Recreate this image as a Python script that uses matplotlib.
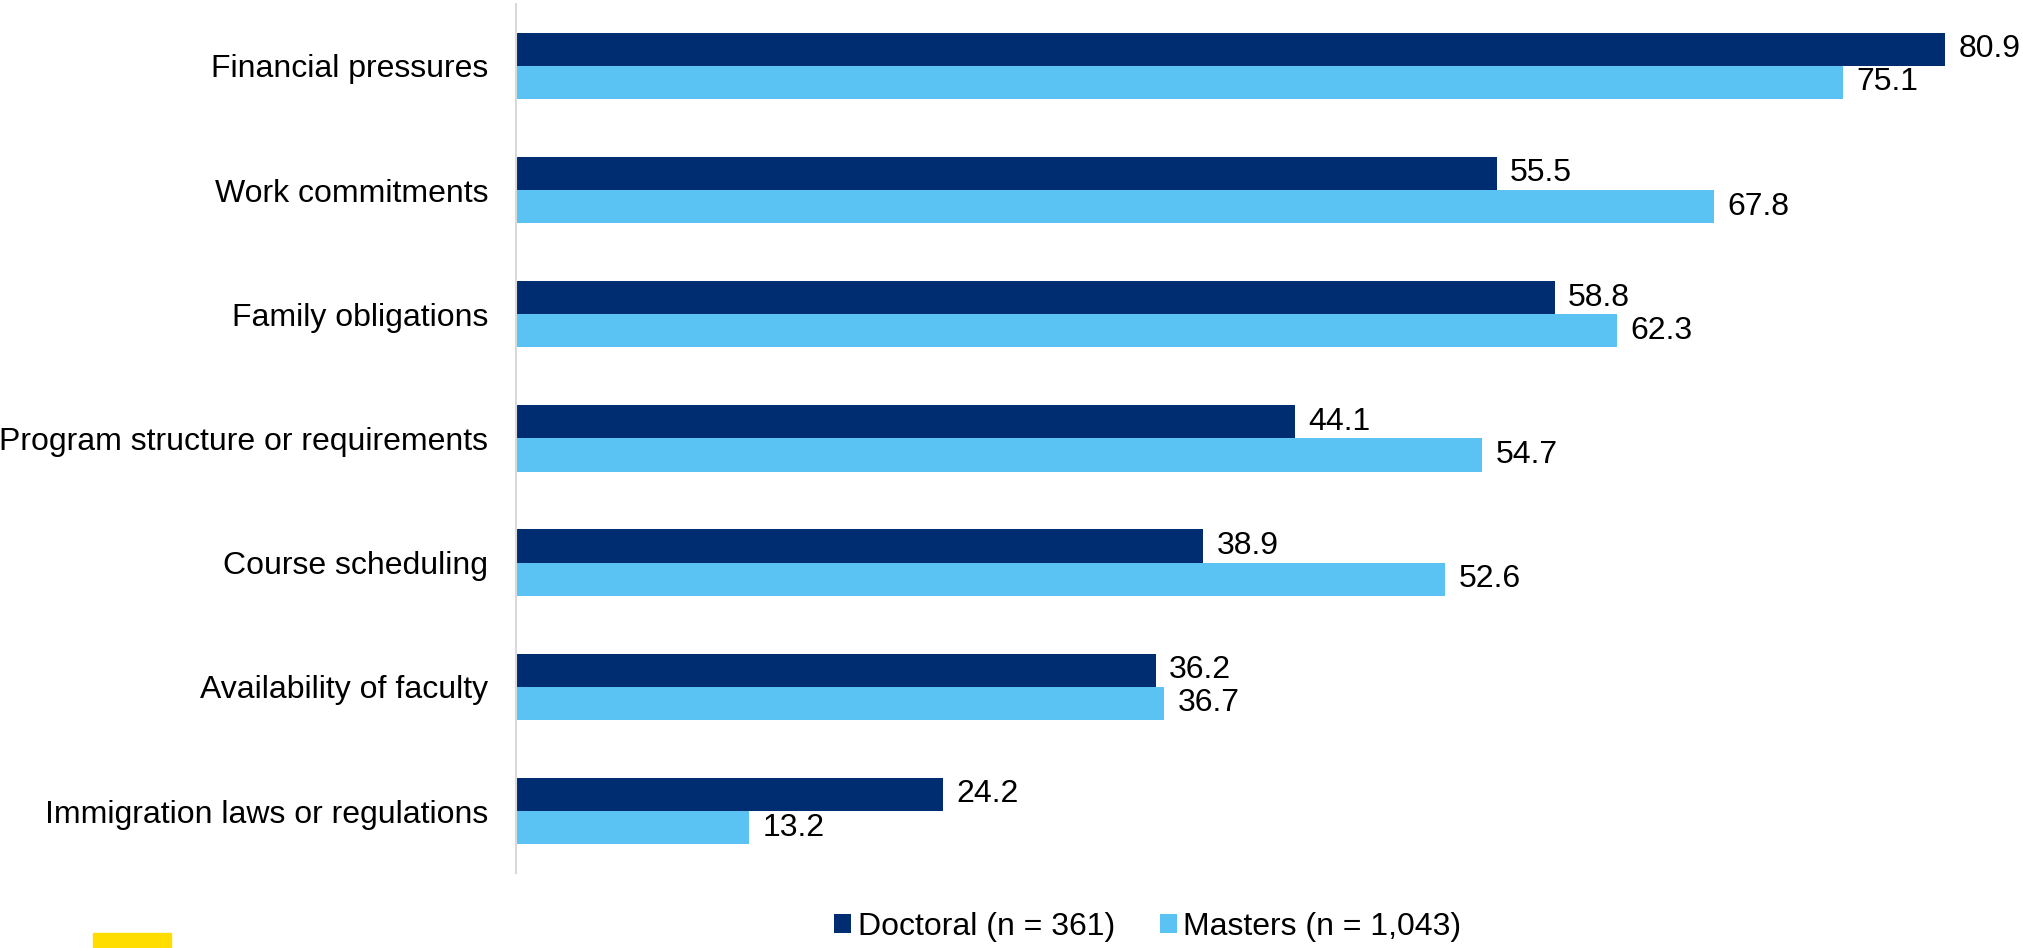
import numpy as np
import matplotlib
matplotlib.use('Agg')
import matplotlib.pyplot as plt
from matplotlib.patches import Rectangle

plt.rcParams['font.family'] = ['Liberation Sans', 'DejaVu Sans']

categories = ['Financial pressures', 'Work commitments', 'Family obligations',
              'Program structure or requirements', 'Course scheduling',
              'Availability of faculty', 'Immigration laws or regulations']
doctoral = [80.9, 55.5, 58.8, 44.1, 38.9, 36.2, 24.2]
masters = [75.1, 67.8, 62.3, 54.7, 52.6, 36.7, 13.2]
series_labels = ['Doctoral (n = 361)', 'Masters (n = 1,043)']

navy = '#002D72'
sky = '#5BC3F3'
fs = 23

fig = plt.figure(figsize=(20.24, 9.48), dpi=100)
ax = fig.add_axes([0.2549, 0.079, 0.742, 0.917])

y = np.arange(len(categories))
h = 0.267
b1 = ax.barh(y - h / 2, doctoral, height=h, color=navy, label=series_labels[0])
b2 = ax.barh(y + h / 2, masters, height=h, color=sky, label=series_labels[1])

for bars, vals in [(b1, doctoral), (b2, masters)]:
    for bar, v in zip(bars, vals):
        ax.text(v + 0.75, bar.get_y() + bar.get_height() / 2, f'{v:.1f}',
                va='center', ha='left', fontsize=fs, color='black')

ax.set_ylim(len(categories) - 0.5, -0.5)
ax.set_xlim(0, 85)
ax.set_yticks(y)
ax.set_yticklabels(categories, fontsize=fs)
ax.set_xticks([])
ax.tick_params(axis='y', length=0, pad=20)

for s in ['top', 'right', 'bottom']:
    ax.spines[s].set_visible(False)
ax.spines['left'].set_color('#d9d9d9')
ax.spines['left'].set_linewidth(1.5)

fig.legend(loc='center', bbox_to_anchor=(0.567, 0.022), ncol=2, frameon=False,
           fontsize=fs, handlelength=0.55, handleheight=0.55,
           handletextpad=0.2, columnspacing=1.4)

# small yellow accent in the lower-left corner
fig.patches.append(Rectangle((93 / 2024, 0), 78 / 2024, 15 / 948,
                             transform=fig.transFigure, color='#FFDD00'))

fig.savefig('out.png', dpi=100)
